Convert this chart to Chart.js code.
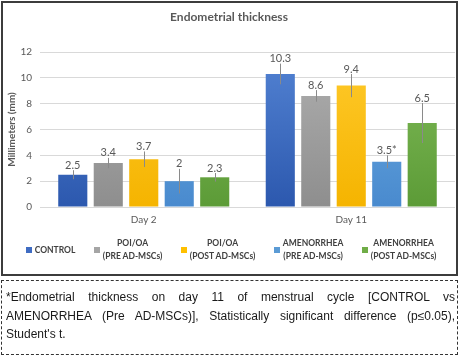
<!DOCTYPE html>
<html><head><meta charset="utf-8">
<script src="https://cdn.jsdelivr.net/npm/chart.js@4.4.1/dist/chart.umd.min.js"></script>
<style>
html,body{margin:0;padding:0;background:#fff;}
body{width:460px;height:360px;position:relative;overflow:hidden;}
#frame{position:absolute;left:1px;top:1px;width:453px;height:271px;border:2px solid #3c3c3c;background:#fff;}
#cw{position:absolute;left:0;top:0;width:453px;height:271px;}
#legend{position:absolute;left:0;top:236px;width:462px;height:28px;display:flex;justify-content:center;align-items:center;gap:18.5px;}
.li{display:flex;align-items:center;font:bold 8.5px Lato,sans-serif;color:#404040;}
.sw{width:6px;height:6px;margin-right:3px;flex:none;}
.tx{text-align:center;line-height:13px;white-space:nowrap;}
#note{position:absolute;left:1px;top:280px;width:449px;height:66px;border:1.5px dashed #333;padding:7px 2px 0 4px;font:12px "Liberation Sans",Arial,sans-serif;color:#1a1a1a;line-height:18.5px;}
.ln{text-align:justify;text-align-last:justify;white-space:nowrap;}
.ln.last{text-align:left;text-align-last:left;}
</style></head>
<body>
<div id="frame"><div id="cw"><canvas id="c"></canvas></div></div>
<div id="legend"></div>
<div id="note">
<div class="ln">*Endometrial thickness on day 11 of menstrual cycle [CONTROL vs</div>
<div class="ln">AMENORRHEA (Pre AD-MSCs)], Statistically significant difference (p≤0.05),</div>
<div class="ln last">Student's t.</div>
</div>
<script>
const categories = ['Day 2', 'Day 11'];
const seriesNames = [['CONTROL'], ['POI/OA', '(PRE AD-MSCs)'], ['POI/OA', '(POST AD-MSCs)'], ['AMENORRHEA', '(PRE AD-MSCs)'], ['AMENORRHEA', '(POST AD-MSCs)']];
const control = [2.5, 10.3];
const poiPre = [3.4, 8.6];
const poiPost = [3.7, 9.4];
const amenPre = [2.0, 3.5];
const amenPost = [2.3, 6.5];
const controlErr = [0.35, 0.8];
const poiPreErr = [0.4, 0.45];
const poiPostErr = [0.6, 0.9];
const amenPreErr = [0.95, 0.5];
const amenPostErr = [0.33, 1.55];
const controlLbl = ['2.5', '10.3'];
const poiPreLbl = ['3.4', '8.6'];
const poiPostLbl = ['3.7', '9.4'];
const amenPreLbl = ['2', '3.5*'];
const amenPostLbl = ['2.3', '6.5'];
const yTicks = [0, 2, 4, 6, 8, 10, 12];

const values = [control, poiPre, poiPost, amenPre, amenPost];
const errors = [controlErr, poiPreErr, poiPostErr, amenPreErr, amenPostErr];
const valueLabels = [controlLbl, poiPreLbl, poiPostLbl, amenPreLbl, amenPostLbl];
const colors = [
  {base:'#3f6cc2', top:'#5383d3', bot:'#2c58ae'},
  {base:'#a5a5a5', top:'#afafaf', bot:'#8e8e8e'},
  {base:'#ffc000', top:'#ffca2c', bot:'#f5b400'},
  {base:'#5b9bd5', top:'#6eaee3', bot:'#498ace'},
  {base:'#70ad47', top:'#81bc59', bot:'#5c9b37'}
];

function grad(i){
  return (c) => {
    const a = c.chart.chartArea;
    if (!a) return colors[i].base;
    const g = c.chart.ctx.createLinearGradient(0, a.top, 0, a.bottom);
    g.addColorStop(0, colors[i].top);
    g.addColorStop(1, colors[i].bot);
    return g;
  };
}

const errPlugin = {
  id: 'errLabels',
  afterDatasetsDraw(chart){
    const ctx = chart.ctx, ys = chart.scales.y;
    ctx.save();
    chart.data.datasets.forEach((ds, i) => {
      const meta = chart.getDatasetMeta(i);
      meta.data.forEach((bar, j) => {
        const v = values[i][j], e = errors[i][j];
        const top = ys.getPixelForValue(v + e), bot = ys.getPixelForValue(v - e);
        const x = Math.round(bar.x) + 0.5;
        ctx.strokeStyle = '#8a8a8a';
        ctx.lineWidth = 1;
        ctx.beginPath(); ctx.moveTo(x, top); ctx.lineTo(x, bot); ctx.stroke();
        const ly = Math.min(bar.y - 9, top - 5);
        ctx.fillStyle = '#595959';
        ctx.font = '11px Lato';
        ctx.textAlign = 'center';
        ctx.textBaseline = 'middle';
        ctx.fillText(valueLabels[i][j], bar.x, ly);
      });
    });
    ctx.restore();
  }
};

new Chart(document.getElementById('c'), {
  type: 'bar',
  data: {
    labels: categories,
    datasets: values.map((d, i) => ({
      label: seriesNames[i].join(' '),
      data: d,
      backgroundColor: grad(i),
      borderWidth: 0,
      categoryPercentage: 0.855,
      barPercentage: 0.82
    }))
  },
  options: {
    responsive: true,
    maintainAspectRatio: false,
    animation: false,
    events: [],
    layout: {padding: {left: 0, right: 1, top: 0, bottom: 41}},
    plugins: {
      legend: {display: false},
      tooltip: {enabled: false},
      title: {
        display: true,
        text: 'Endometrial thickness',
        color: '#595959',
        font: {family: 'Lato', size: 12, weight: 'bold'},
        padding: {top: 7, bottom: 27.6}
      }
    },
    scales: {
      x: {
        grid: {display: false, drawTicks: false},
        border: {display: false},
        ticks: {color: '#595959', font: {family: 'Lato', size: 10}, padding: 7}
      },
      y: {
        min: 0, max: 12,
        afterBuildTicks: s => { s.ticks = yTicks.map(v => ({value: v})); },
        afterFit: s => { s.width = 37; },
        grid: {color: '#d9d9d9', drawTicks: false, lineWidth: 1},
        border: {display: false},
        ticks: {color: '#595959', font: {family: 'Lato', size: 10}, padding: 8},
        title: {display: true, text: 'Millimeters (mm)', color: '#595959', font: {family: 'Lato', size: 10, weight: 'bold'}, padding: {top: 3, bottom: 0}}
      }
    }
  },
  plugins: [errPlugin]
});

const lg = document.getElementById('legend');
seriesNames.forEach((n, i) => {
  const it = document.createElement('div'); it.className = 'li';
  const sw = document.createElement('div'); sw.className = 'sw'; sw.style.background = colors[i].base;
  const tx = document.createElement('div'); tx.className = 'tx';
  tx.innerHTML = n.map(s => s.replace(/&/g,'&amp;')).join('<br>');
  it.appendChild(sw); it.appendChild(tx); lg.appendChild(it);
});
</script>
</body></html>
